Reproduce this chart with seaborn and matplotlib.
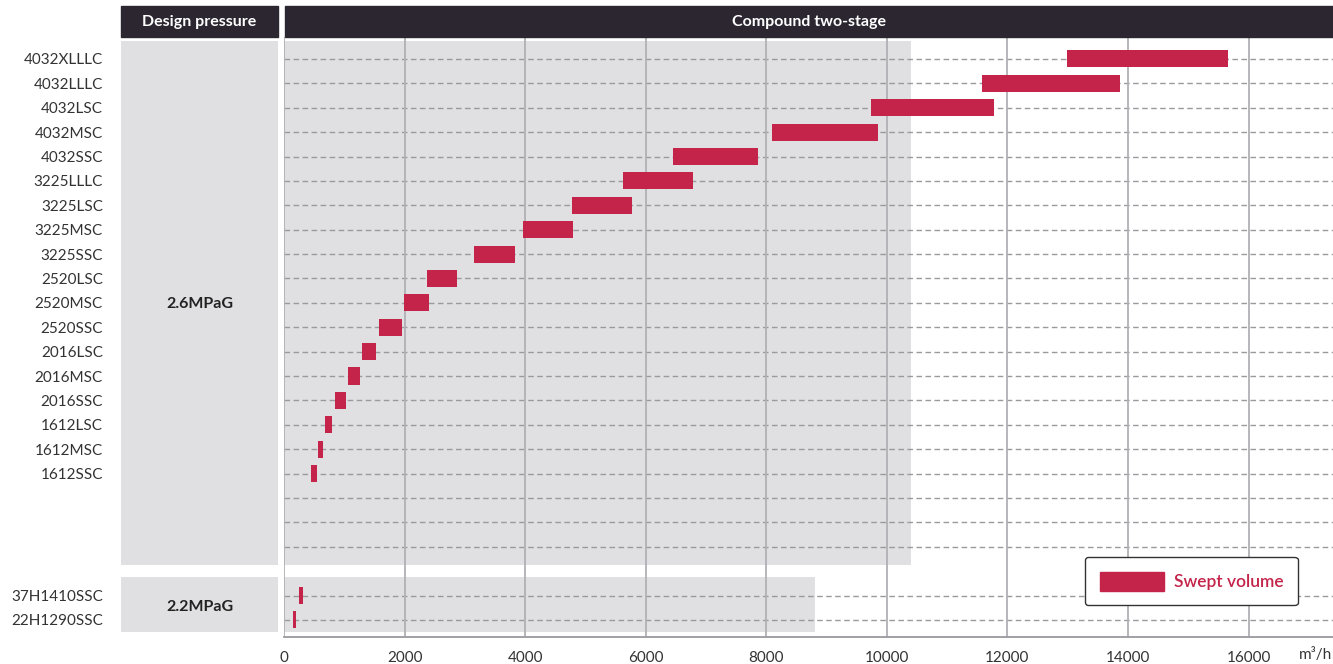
import matplotlib
matplotlib.use("Agg")
import matplotlib.pyplot as plt
from matplotlib.patches import Rectangle, Patch
from matplotlib.ticker import MultipleLocator
import seaborn as sns

# compressor models, top to bottom, and swept volume ranges (m3/h)
models_26 = ["4032XLLLC", "4032LLLC", "4032LSC", "4032MSC", "4032SSC",
             "3225LLLC", "3225LSC", "3225MSC", "3225SSC",
             "2520LSC", "2520MSC", "2520SSC",
             "2016LSC", "2016MSC", "2016SSC",
             "1612LSC", "1612MSC", "1612SSC"]
start_26 = [12980, 11570, 9740, 8100, 6460, 5620, 4770, 3960, 3150,
            2370, 1990, 1580, 1290, 1060, 850, 680, 560, 450]
end_26 = [15660, 13870, 11780, 9860, 7860, 6780, 5770, 4800, 3830,
          2870, 2400, 1960, 1520, 1260, 1030, 800, 650, 550]

models_22 = ["37H1410SSC", "22H1290SSC"]
start_22 = [250, 150]
end_22 = [315, 200]

x_ticks = [0, 2000, 4000, 6000, 8000, 10000, 12000, 14000, 16000]

RED = "#c4234a"
DARK = "#2b2630"
PANEL = "#e0e0e2"

sns.set_style("white")
plt.rcParams["font.family"] = ["Lato", "DejaVu Sans"]

W, H = 1333, 664
fig = plt.figure(figsize=(W / 100, H / 100), dpi=100)
bot, top = (H - 637) / H, (H - 37) / H
ax = fig.add_axes([284 / W, bot, (W - 284) / W, top - bot])
lax = fig.add_axes([121 / W, bot, 157 / W, top - bot], sharey=ax)

# row positions: 18 models, 3 empty rows, a gap, then 2 models
pos_26 = list(range(len(models_26)))
blank = [18, 19, 20]
pos_22 = [22, 23]
ylim = (23.70, -0.90)

# grey background bands
ax.add_patch(Rectangle((0, -0.74), 10400, 21.48, color=PANEL, zorder=0, lw=0))
ax.add_patch(Rectangle((0, 21.23), 8800, 2.26, color=PANEL, zorder=0, lw=0))
lax.add_patch(Rectangle((0, -0.74), 1, 21.48, color=PANEL, zorder=0, lw=0))
lax.add_patch(Rectangle((0, 21.23), 1, 2.26, color=PANEL, zorder=0, lw=0))

# dashed row lines and vertical grid
for y in pos_26 + blank + pos_22:
    ax.axhline(y, color="#9a9a9e", lw=1.0, ls=(0, (4, 2.5)), zorder=1)
for x in x_ticks:
    ax.axvline(x, color="#b0b0b5", lw=1.3, zorder=1)

# bars
ax.barh(pos_26, [e - s for s, e in zip(start_26, end_26)], left=start_26,
        height=0.7, color=RED, edgecolor="none", linewidth=0, zorder=3)
ax.barh(pos_22, [e - s for s, e in zip(start_22, end_22)], left=start_22,
        height=0.7, color=RED, edgecolor="none", linewidth=0, zorder=3)

ax.set_xlim(0, 17400)
ax.set_ylim(*ylim)
ax.set_xticks(x_ticks)
ax.xaxis.set_minor_locator(MultipleLocator(400))
ax.tick_params(axis="x", which="both", direction="in", length=5, color="#9a9a9e",
               width=1, labelsize=11, labelcolor="#333333", pad=10)
ax.tick_params(axis="y", left=False, labelleft=False)
for s in ["top", "right", "left"]:
    ax.spines[s].set_visible(False)
ax.spines["bottom"].set_color("#9a9a9e")
ax.spines["bottom"].set_linewidth(1.3)

# left column: labels
lax.set_xlim(0, 1)
lax.set_yticks(pos_26 + blank + pos_22)
lax.set_yticklabels(models_26 + ["", "", ""] + models_22)
lax.tick_params(axis="y", length=5, color="#9a9a9e", width=1, labelsize=11,
                labelcolor="#333333", pad=8)
lax.tick_params(axis="x", bottom=False, labelbottom=False)
for s in lax.spines.values():
    s.set_visible(False)
lax.text(0.5, 10.05, "2.6MPaG", ha="center", va="center", fontsize=11.5,
         fontweight="bold", color="#222222")
lax.text(0.5, 22.45, "2.2MPaG", ha="center", va="center", fontsize=11.5,
         fontweight="bold", color="#222222")

# header bars
hy, hh = (H - 37) / H, 31 / H
fig.patches.append(Rectangle((121 / W, hy), 157 / W, hh, transform=fig.transFigure,
                             color=DARK, zorder=0))
fig.patches.append(Rectangle((285 / W, hy), (W - 285) / W, hh, transform=fig.transFigure,
                             color=DARK, zorder=0))
fig.text(199.5 / W, (H - 22) / H, "Design pressure", ha="center", va="center",
         color="white", fontsize=11.5, fontweight="bold")
fig.text(809 / W, (H - 22) / H, "Compound two-stage", ha="center", va="center",
         color="white", fontsize=11.5, fontweight="bold")

fig.text(0.999, (H - 655) / H, "m³/h", ha="right", va="center", fontsize=11,
         color="#333333")

leg = ax.legend(handles=[Patch(color=RED, label="Swept volume")],
                loc="upper left", bbox_to_anchor=(1085 / W, (H - 557) / H),
                bbox_transform=fig.transFigure, borderaxespad=0,
                fontsize=12.5, handlelength=3.7, handleheight=1.3,
                borderpad=0.85, handletextpad=0.55, labelcolor=RED,
                frameon=True, fancybox=True, framealpha=1,
                edgecolor="#333333")
leg.get_frame().set_boxstyle("round,pad=0,rounding_size=0.2")
leg.get_frame().set_linewidth(1.0)
for t in leg.get_texts():
    t.set_fontweight("semibold")

fig.savefig("out.png", dpi=100)
